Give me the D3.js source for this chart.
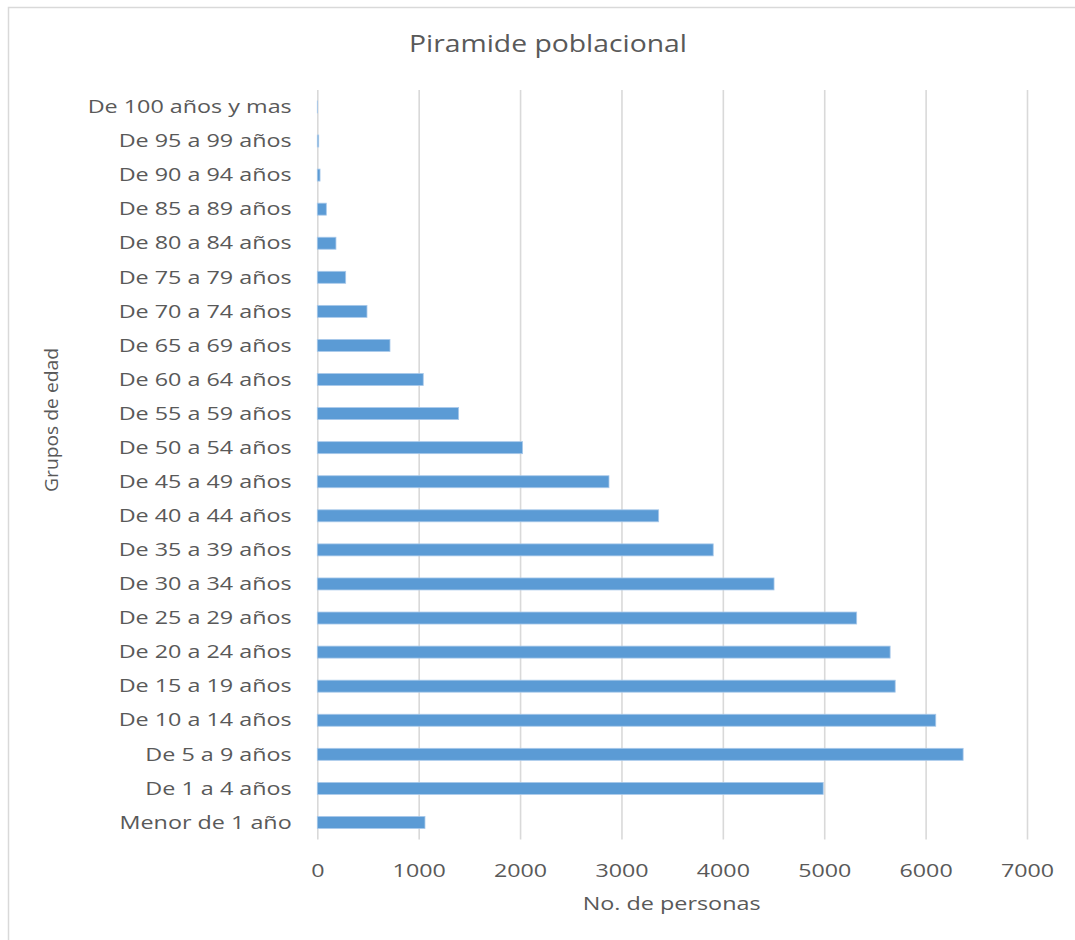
<!DOCTYPE html>
<html>
<head>
<meta charset="utf-8">
<script src="https://cdn.jsdelivr.net/npm/d3@7"></script>
<style>
  html, body { margin: 0; padding: 0; background: #ffffff; overflow: hidden; }
  svg { display: block; }
  text { font-family: "Open Sans", sans-serif; fill: #595959; }
</style>
</head>
<body>
<svg id="chart" width="1075" height="940"></svg>
<script>
// Age groups, from the youngest to the oldest
const groups = [
  "Menor de 1 año", "De 1 a 4 años", "De 5 a 9 años", "De 10 a 14 años",
  "De 15 a 19 años", "De 20 a 24 años", "De 25 a 29 años", "De 30 a 34 años",
  "De 35 a 39 años", "De 40 a 44 años", "De 45 a 49 años", "De 50 a 54 años",
  "De 55 a 59 años", "De 60 a 64 años", "De 65 a 69 años", "De 70 a 74 años",
  "De 75 a 79 años", "De 80 a 84 años", "De 85 a 89 años", "De 90 a 94 años",
  "De 95 a 99 años", "De 100 años y mas"
];
// Number of people in each age group
const persons = [
  1062, 4990, 6370, 6100,
  5700, 5650, 5320, 4505,
  3905, 3367, 2877, 2025,
  1394, 1045, 717, 490,
  280, 184, 89, 27,
  14, 2
];
const xTicks = [0, 1000, 2000, 3000, 4000, 5000, 6000, 7000];

const title = "Piramide poblacional";
const xTitle = "No. de personas";
const yTitle = "Grupos de edad";

const svg = d3.select("#chart");
const plot = { left: 317.3, right: 1027, top: 89.9, bottom: 839.5 };

// widen lettering horizontally by a factor
function stretch(factor) {
  return sel => sel.each(function () {
    const w = this.getComputedTextLength();
    d3.select(this).attr("textLength", w * factor).attr("lengthAdjust", "spacingAndGlyphs");
  });
}

// outer frame
svg.append("rect")
  .attr("x", 8.5).attr("y", 7.5)
  .attr("width", 1200).attr("height", 1100)
  .attr("fill", "none").attr("stroke", "#d9d9d9").attr("stroke-width", 1.5);

const x = d3.scaleLinear().domain([0, 7000]).range([plot.left, plot.right]);
const y = d3.scaleBand()
  .domain(groups.slice().reverse())
  .range([plot.top, plot.bottom])
  .paddingInner(0.648).paddingOuter(0.324);

// vertical gridlines and value labels
const xAxis = svg.append("g")
  .attr("transform", `translate(0,${plot.bottom})`)
  .call(d3.axisBottom(x).tickValues(xTicks).tickSize(-(plot.bottom - plot.top)).tickFormat(d3.format("d")));
xAxis.select(".domain").remove();
xAxis.attr("font-family", null).attr("font-size", null);
xAxis.selectAll(".tick line").attr("stroke", "#d9d9d9").attr("stroke-width", 1.6);
xAxis.selectAll(".tick text")
  .attr("y", 876.5 - plot.bottom).attr("dy", null)
  .style("font-size", "18.6px").attr("fill", "#595959")
  .call(stretch(1.25));

// bars
svg.append("g").selectAll("rect")
  .data(groups.map((g, i) => ({ g, v: persons[i] })))
  .join("rect")
  .attr("x", x(0))
  .attr("y", d => y(d.g))
  .attr("width", d => x(d.v) - x(0))
  .attr("height", y.bandwidth())
  .attr("fill", "#5b9bd5")
  .attr("stroke", "#a9c9ea")
  .attr("stroke-width", 0.8);

// category labels
const yAxis = svg.append("g")
  .attr("transform", `translate(${plot.left},0)`)
  .call(d3.axisLeft(y).tickSize(0).tickPadding(25.6));
yAxis.select(".domain").remove();
yAxis.attr("font-family", null).attr("font-size", null);
yAxis.selectAll(".tick text")
  .attr("dy", "6.2px")
  .style("font-size", "17.3px").attr("fill", "#595959")
  .call(stretch(1.35));

// titles
svg.append("text")
  .attr("x", 548).attr("y", 52)
  .attr("text-anchor", "middle")
  .style("font-size", "23.4px")
  .text(title).call(stretch(1.21));

svg.append("text")
  .attr("x", (plot.left + plot.right) / 2 - 0.5).attr("y", 910)
  .attr("text-anchor", "middle")
  .style("font-size", "18px")
  .text(xTitle)
  .attr("textLength", 178).attr("lengthAdjust", "spacingAndGlyphs");

svg.append("text")
  .attr("transform", "translate(58,420) rotate(-90)")
  .attr("text-anchor", "middle")
  .style("font-size", "18px")
  .text(yTitle)
  .attr("textLength", 144).attr("lengthAdjust", "spacingAndGlyphs");
</script>
</body>
</html>
